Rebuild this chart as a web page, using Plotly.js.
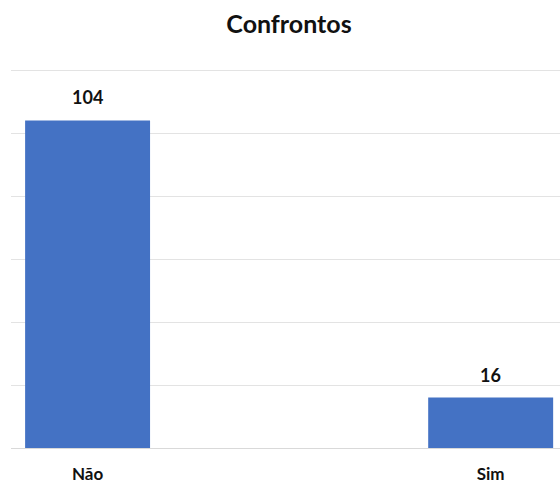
<!DOCTYPE html>
<html>
<head>
<meta charset="utf-8">
<script src="https://cdn.plot.ly/plotly-3.0.1.min.js"></script>
<style>html,body{margin:0;padding:0;background:#fff;}#chart{width:560px;height:484px;}</style>
</head>
<body>
<div id="chart"></div>
<script>
const categories = ["Não", "Sim"];
const values = [104, 16];
const yTicks = [0, 20, 40, 60, 80, 100, 120];

const fontFam = "Lato, 'Open Sans', 'Liberation Sans', sans-serif";

const trace = {
  type: "bar",
  x: [0, 1],
  y: values,
  width: 0.31,
  marker: {color: "#4472C4"},
  hoverinfo: "none"
};

const annotations = values.map((v, i) => ({
  x: i, y: v, xref: "x", yref: "y",
  text: "<b>" + v + "</b>",
  showarrow: false,
  yanchor: "bottom",
  yshift: 10,
  font: {family: fontFam, size: 18, color: "#111"}
}));

const layout = {
  width: 560, height: 484,
  margin: {l: 11, r: 0, t: 69, b: 36},
  paper_bgcolor: "#fff", plot_bgcolor: "#fff",
  showlegend: false,
  title: {
    text: "<b>Confrontos</b>",
    x: 289/560, xanchor: "center",
    y: 1 - 24/484, yref: "container", yanchor: "middle",
    font: {family: fontFam, size: 25, color: "#111"}
  },
  xaxis: {
    range: [-0.19, 1.172],
    tickmode: "array",
    tickvals: [0, 1],
    ticktext: categories,
    showgrid: false,
    zeroline: false,
    showline: false,
    ticks: "",
    ticklabelstandoff: 14,
    tickfont: {family: fontFam, size: 17, color: "#111", weight: "bold"}
  },
  yaxis: {
    range: [0, 120.35],
    tickmode: "array",
    tickvals: yTicks,
    showticklabels: false,
    showgrid: true,
    gridcolor: "#e3e3e3",
    gridwidth: 1,
    zeroline: true,
    zerolinecolor: "#d9d9d9",
    zerolinewidth: 1
  },
  annotations: annotations
};

Plotly.newPlot("chart", [trace], layout, {staticPlot: true, displayModeBar: false});
</script>
</body>
</html>
